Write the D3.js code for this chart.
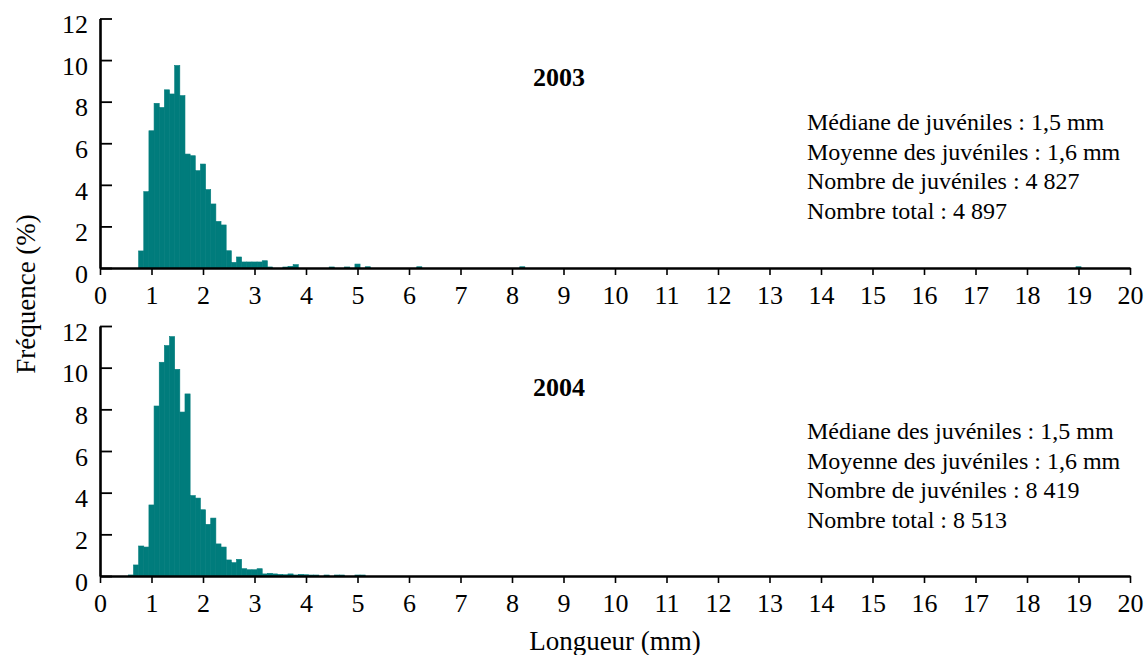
<!DOCTYPE html>
<html>
<head>
<meta charset="utf-8">
<script src="https://cdn.jsdelivr.net/npm/d3@7"></script>
<style>
  html, body { margin: 0; padding: 0; background: #fff; }
  svg { display: block; }
</style>
</head>
<body>
<svg id="chart" width="1148" height="655"></svg>
<script>
// Length-class centres (mm, 0.1 mm classes) and frequencies (%)
const lengths2003 = [0.8, 0.9, 1.0, 1.1, 1.2, 1.3, 1.4, 1.5, 1.6, 1.7, 1.8, 1.9, 2.0, 2.1, 2.2, 2.3, 2.4, 2.5, 2.6, 2.7, 2.8, 2.9, 3.0, 3.1, 3.2, 3.3, 3.6, 3.7, 3.8, 4.5, 4.8, 5.0, 5.2, 6.2, 8.2, 19.0];
const freq2003    = [0.82, 3.67, 6.6, 7.92, 7.72, 8.57, 8.37, 9.74, 8.29, 5.48, 5.4, 4.68, 5.0, 3.77, 3.08, 2.24, 2.07, 0.83, 0.27, 0.53, 0.29, 0.29, 0.29, 0.29, 0.35, 0.05, 0.04, 0.08, 0.16, 0.05, 0.05, 0.19, 0.06, 0.06, 0.06, 0.06];

const lengths2004 = [0.6, 0.7, 0.8, 0.9, 1.0, 1.1, 1.2, 1.3, 1.4, 1.5, 1.6, 1.7, 1.8, 1.9, 2.0, 2.1, 2.2, 2.3, 2.4, 2.5, 2.6, 2.7, 2.8, 2.9, 3.0, 3.1, 3.2, 3.3, 3.4, 3.5, 3.6, 3.7, 3.8, 3.9, 4.0, 4.1, 4.2, 4.4, 4.6, 4.7, 5.0, 5.1];
const freq2004    = [0.05, 0.53, 1.44, 1.39, 3.41, 8.16, 10.26, 11.06, 11.49, 9.92, 7.87, 8.74, 3.86, 3.74, 3.18, 2.48, 2.78, 1.54, 1.39, 0.77, 0.64, 0.8, 0.35, 0.3, 0.3, 0.35, 0.1, 0.13, 0.1, 0.08, 0.06, 0.1, 0.05, 0.08, 0.06, 0.03, 0.03, 0.02, 0.02, 0.02, 0.04, 0.02];

const xTicks = d3.range(0, 21, 1);
const yTicks = [0, 2, 4, 6, 8, 10, 12];
const binWidth = 0.1;

const stats2003 = [
  "Médiane de juvéniles : 1,5 mm",
  "Moyenne des juvéniles : 1,6 mm",
  "Nombre de juvéniles : 4 827",
  "Nombre total : 4 897"
];
const stats2004 = [
  "Médiane des juvéniles : 1,5 mm",
  "Moyenne des juvéniles : 1,6 mm",
  "Nombre de juvéniles : 8 419",
  "Nombre total : 8 513"
];

const FONT = "Liberation Serif";
const svg = d3.select("#chart")
  .attr("font-family", FONT);
const barColor = "#007c7c";

const x = d3.scaleLinear().domain([0, 20]).range([100, 1130]);

const panels = [
  { year: "2003", lengths: lengths2003, freq: freq2003, stats: stats2003, top: 18.5, bottom: 268, yearY: 86, statsY: 130 },
  { year: "2004", lengths: lengths2004, freq: freq2004, stats: stats2004, top: 326, bottom: 576, yearY: 396, statsY: 439 }
];

panels.forEach(p => {
  const y = d3.scaleLinear().domain([0, 12]).range([p.bottom, p.top]);
  const g = svg.append("g");

  // histogram bars
  const bins = p.lengths.map((l, i) => ({ l, v: p.freq[i] }));
  g.append("g").selectAll("rect").data(bins).join("rect")
    .attr("x", d => x(d.l - binWidth / 2))
    .attr("width", d => x(d.l + binWidth / 2) - x(d.l - binWidth / 2))
    .attr("y", d => Math.min(y(d.v), p.bottom - 1))
    .attr("height", d => Math.max(p.bottom - y(d.v), 1))
    .attr("fill", barColor)
    .attr("stroke", barColor)
    .attr("stroke-width", 0.6);

  // x axis
  const xa = g.append("g")
    .attr("transform", `translate(0,${p.bottom})`)
    .call(d3.axisBottom(x).tickValues(xTicks).tickFormat(d3.format("d"))
      .tickSizeInner(7).tickSizeOuter(0).tickPadding(11));
  xa.attr("font-family", FONT).attr("font-size", 26);
  xa.select(".domain").attr("stroke", "#000").attr("stroke-width", 2.6);
  xa.selectAll(".tick line").attr("stroke", "#000").attr("stroke-width", 1.6);

  // y axis (ticks pointing into the plot)
  const ya = g.append("g")
    .attr("transform", `translate(${x(0)},0)`)
    .call(d3.axisLeft(y).tickValues(yTicks).tickFormat(d3.format("d"))
      .tickSizeInner(-12).tickSizeOuter(0).tickPadding(12));
  ya.attr("font-family", FONT).attr("font-size", 26);
  ya.select(".domain").attr("stroke", "#000").attr("stroke-width", 2.6);
  ya.selectAll(".tick line").attr("stroke", "#000").attr("stroke-width", 1.8);
  ya.selectAll(".tick text").attr("y", 6);

  // year heading
  g.append("text")
    .attr("x", 559).attr("y", p.yearY)
    .attr("text-anchor", "middle")
    .attr("font-size", 26).attr("font-weight", "bold")
    .text(p.year);

  // summary statistics
  g.append("g").selectAll("text").data(p.stats).join("text")
    .attr("x", 807)
    .attr("y", (d, i) => p.statsY + i * 29.5)
    .attr("font-size", 24)
    .text(d => d);
});

// axis titles
svg.append("text")
  .attr("transform", "translate(35,294) rotate(-90)")
  .attr("text-anchor", "middle")
  .attr("font-size", 27)
  .text("Fréquence (%)");

svg.append("text")
  .attr("x", 615).attr("y", 650)
  .attr("text-anchor", "middle")
  .attr("font-size", 27)
  .text("Longueur (mm)");
</script>
</body>
</html>
